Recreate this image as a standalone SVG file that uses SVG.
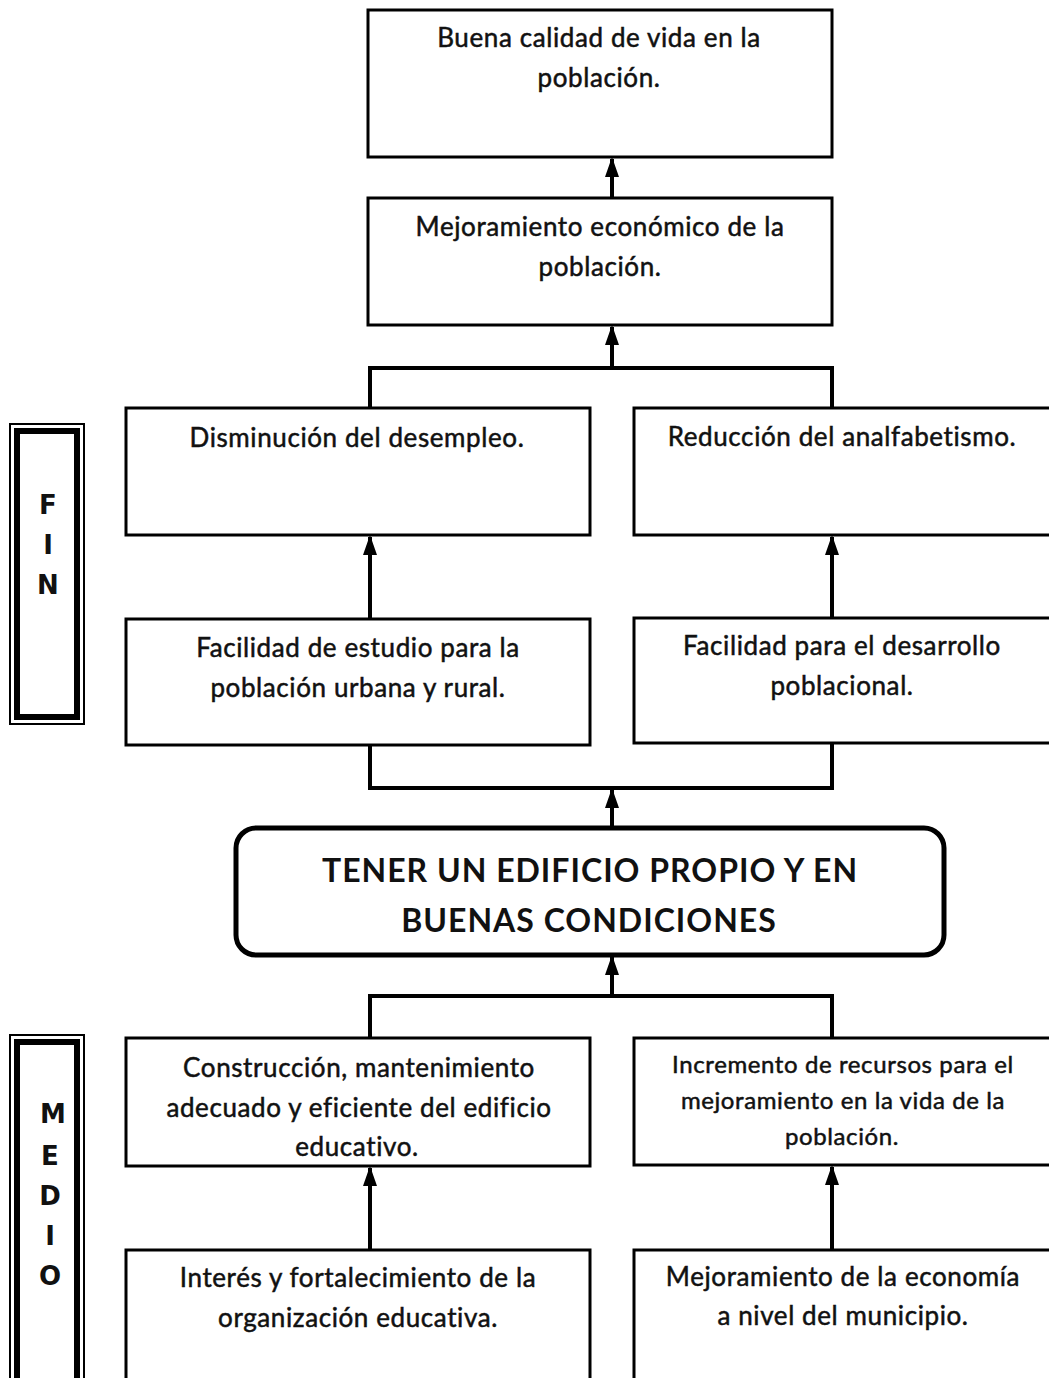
<svg xmlns="http://www.w3.org/2000/svg" width="1049" height="1378" viewBox="0 0 1049 1378">
<defs>
<style>
.box{fill:#fff;stroke:#000;stroke-width:3}
.t{font-family:Lato,"Liberation Sans",sans-serif;font-size:26px;letter-spacing:0.6px;fill:#111;stroke:#111;stroke-width:0.5;text-anchor:middle}
.ts{font-size:24px}
.big{font-family:Lato,"Liberation Sans",sans-serif;font-size:32px;letter-spacing:1px;font-weight:bold;fill:#111;text-anchor:middle}
.side{font-family:"DejaVu Sans","Liberation Sans",sans-serif;font-size:26px;font-weight:bold;fill:#111;text-anchor:middle}
.c{fill:none;stroke:#000;stroke-width:4}
.a{fill:none;stroke:#000;stroke-width:4;marker-end:url(#ah)}
</style>
<marker id="ah" markerUnits="userSpaceOnUse" markerWidth="20" markerHeight="14" viewBox="0 0 20 14" refX="18" refY="7" orient="auto">
<path d="M0,0 L20,7 L0,14 z" fill="#000"/>
</marker>
</defs>
<rect width="1049" height="1378" fill="#fff"/>

<g id="connectors">
<path class="a" d="M612,198 V159"/>
<path class="c" d="M370,408 V368 H832 V408"/>
<path class="a" d="M612,368 V327"/>
<path class="a" d="M370,618 V537"/>
<path class="a" d="M832,618 V537"/>
<path class="c" d="M370,745 V788 H832 V743"/>
<path class="a" d="M612,827 V790"/>
<path class="a" d="M612,996 V957"/>
<path class="c" d="M370,1038 V996 H832 V1038"/>
<path class="a" d="M370,1250 V1168"/>
<path class="a" d="M832,1250 V1167"/>
</g>

<g id="fin-label">
<rect x="10" y="424" width="74" height="300" fill="none" stroke="#000" stroke-width="2"/>
<rect x="17" y="431" width="60" height="286" fill="none" stroke="#000" stroke-width="6"/>
<text class="side" x="48" y="514">F</text>
<text class="side" x="48" y="554">I</text>
<text class="side" x="48" y="594">N</text>
</g>

<g id="medio-label">
<rect x="10" y="1035" width="74" height="350" fill="none" stroke="#000" stroke-width="2"/>
<rect x="17" y="1042" width="60" height="340" fill="none" stroke="#000" stroke-width="6"/>
<text class="side" x="53" y="1123">M</text>
<text class="side" x="50" y="1165">E</text>
<text class="side" x="50" y="1205">D</text>
<text class="side" x="50" y="1245">I</text>
<text class="side" x="50" y="1285">O</text>
</g>

<g id="n1">
<rect class="box" x="368" y="10" width="464" height="147"/>
<text class="t" x="599" y="47">Buena calidad de vida en la</text>
<text class="t" x="599" y="87">población.</text>
</g>

<g id="n2">
<rect class="box" x="368" y="198" width="464" height="127"/>
<text class="t" x="600" y="236">Mejoramiento económico de la</text>
<text class="t" x="600" y="276">población.</text>
</g>

<g id="n3">
<rect class="box" x="126" y="408" width="464" height="127"/>
<text class="t" x="357" y="447">Disminución del desempleo.</text>
</g>

<g id="n4">
<rect class="box" x="634" y="408" width="420" height="127"/>
<text class="t" x="842" y="446">Reducción del analfabetismo.</text>
</g>

<g id="n5">
<rect class="box" x="126" y="619" width="464" height="126"/>
<text class="t" x="358" y="657">Facilidad de estudio para la</text>
<text class="t" x="358" y="697">población urbana y rural.</text>
</g>

<g id="n6">
<rect class="box" x="634" y="618" width="420" height="125"/>
<text class="t" x="842" y="655">Facilidad para el desarrollo</text>
<text class="t" x="842" y="695">poblacional.</text>
</g>

<g id="n7">
<rect x="236" y="828" width="708" height="127" rx="20" ry="20" fill="#fff" stroke="#000" stroke-width="5"/>
<text class="big" x="590" y="882">TENER UN EDIFICIO PROPIO Y EN</text>
<text class="big" x="589" y="932">BUENAS CONDICIONES</text>
</g>

<g id="n8">
<rect class="box" x="126" y="1038" width="464" height="128"/>
<text class="t" x="359" y="1077">Construcción, mantenimiento</text>
<text class="t" x="359" y="1117">adecuado y eficiente del edificio</text>
<text class="t" x="357" y="1156">educativo.</text>
</g>

<g id="n9">
<rect class="box" x="634" y="1038" width="420" height="127"/>
<text class="t ts" x="843" y="1073">Incremento de recursos para el</text>
<text class="t ts" x="843" y="1109">mejoramiento en la vida de la</text>
<text class="t ts" x="842" y="1145">población.</text>
</g>

<g id="n10">
<rect class="box" x="126" y="1250" width="464" height="140"/>
<text class="t" x="358" y="1287">Interés y fortalecimiento de la</text>
<text class="t" x="358" y="1327">organización educativa.</text>
</g>

<g id="n11">
<rect class="box" x="634" y="1250" width="420" height="140"/>
<text class="t" x="843" y="1286">Mejoramiento de la economía</text>
<text class="t" x="843" y="1325">a nivel del municipio.</text>
</g>
</svg>
